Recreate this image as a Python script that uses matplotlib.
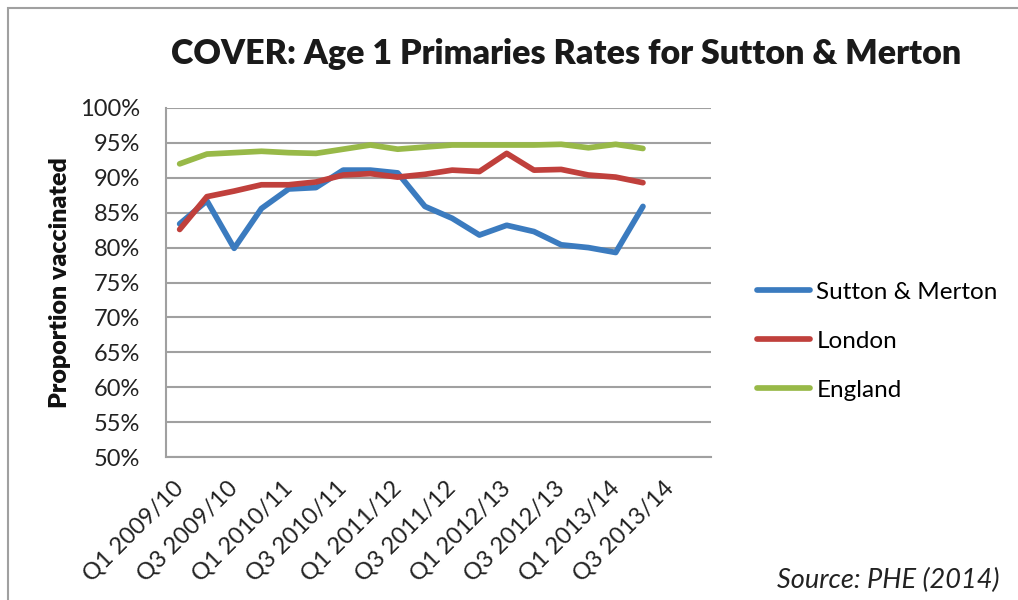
import numpy as np
import matplotlib
matplotlib.use("Agg")
import matplotlib.pyplot as plt
from matplotlib.patches import Rectangle

plt.rcParams['font.family'] = ['Lato', 'DejaVu Sans']

# quarters Q1 2009/10 .. Q4 2013/14
years = ['2009/10', '2010/11', '2011/12', '2012/13', '2013/14']
quarters = ['Q%d %s' % (q, y) for y in years for q in (1, 2, 3, 4)]

sutton = [83.4, 86.7, 79.9, 85.6, 88.4, 88.6, 91.1, 91.1, 90.7, 85.9,
          84.2, 81.8, 83.2, 82.3, 80.4, 80.0, 79.3, 85.9]
london = [82.6, 87.3, 88.1, 89.0, 89.0, 89.4, 90.4, 90.6, 90.1, 90.5,
          91.1, 90.9, 93.5, 91.1, 91.2, 90.4, 90.1, 89.3]
england = [92.0, 93.4, 93.6, 93.8, 93.6, 93.5, 94.1, 94.7, 94.1, 94.4,
           94.7, 94.7, 94.7, 94.7, 94.8, 94.3, 94.8, 94.2]

series = [('Sutton & Merton', sutton, '#3b7bbf'),
          ('London', london, '#c0403c'),
          ('England', england, '#98b948')]

fig = plt.figure(figsize=(10.18, 6.0), dpi=100)
ax = fig.add_axes([0.1631, 0.2383, 0.5354, 0.5817])

x = np.arange(len(sutton))
for name, vals, col in series:
    ax.plot(x, vals, color=col, lw=4.1, label=name,
            solid_capstyle='round', solid_joinstyle='round')

ax.set_xlim(-0.5, len(quarters) - 0.5)
ax.set_ylim(50, 100)
yt = np.arange(50, 101, 5)
ax.set_yticks(yt)
ax.set_yticklabels(['%d%%' % v for v in yt], fontsize=17, color='#222222')
ax.set_xticks(np.arange(0, len(quarters), 2))
ax.set_xticklabels(quarters[::2], rotation=45, ha='right', va='center',
                   rotation_mode='anchor', fontsize=17, color='#222222')
ax.tick_params(axis='y', length=0, pad=19)
ax.tick_params(axis='x', length=0, pad=20)

ax.grid(axis='y', color='#a0a0a0', lw=1.5)
ax.set_axisbelow(True)
for s in ['top', 'right']:
    ax.spines[s].set_visible(False)
for s in ['left', 'bottom']:
    ax.spines[s].set_color('#a0a0a0')
    ax.spines[s].set_linewidth(1.5)

ax.set_ylabel('Proportion vaccinated', fontsize=18, fontweight='heavy', color='#111111')
ax.yaxis.label.set_va('center')
ax.yaxis.set_label_coords(-0.195, 0.5)

ax.legend(loc='center left', bbox_to_anchor=(1.084, 0.332), frameon=False,
          fontsize=17.5, handlelength=2.2, handletextpad=0.25,
          labelspacing=1.15, borderpad=0, borderaxespad=0)

fig.text(0.556, 0.91, 'COVER: Age 1 Primaries Rates for Sutton & Merton',
         ha='center', va='center', fontsize=24.5, fontweight='heavy', color='#1a1a1a')
fig.text(0.982, 0.033, 'Source: PHE (2014)', ha='right', va='center',
         fontsize=19.5, style='italic', color='#222222')

fig.patches.append(Rectangle((8 / 1018, -0.1), 1.2, 0.1 + 1 - 8 / 600,
                             transform=fig.transFigure, fill=False,
                             edgecolor='#a0a0a0', lw=1.5))

fig.savefig('out.png', dpi=100)
